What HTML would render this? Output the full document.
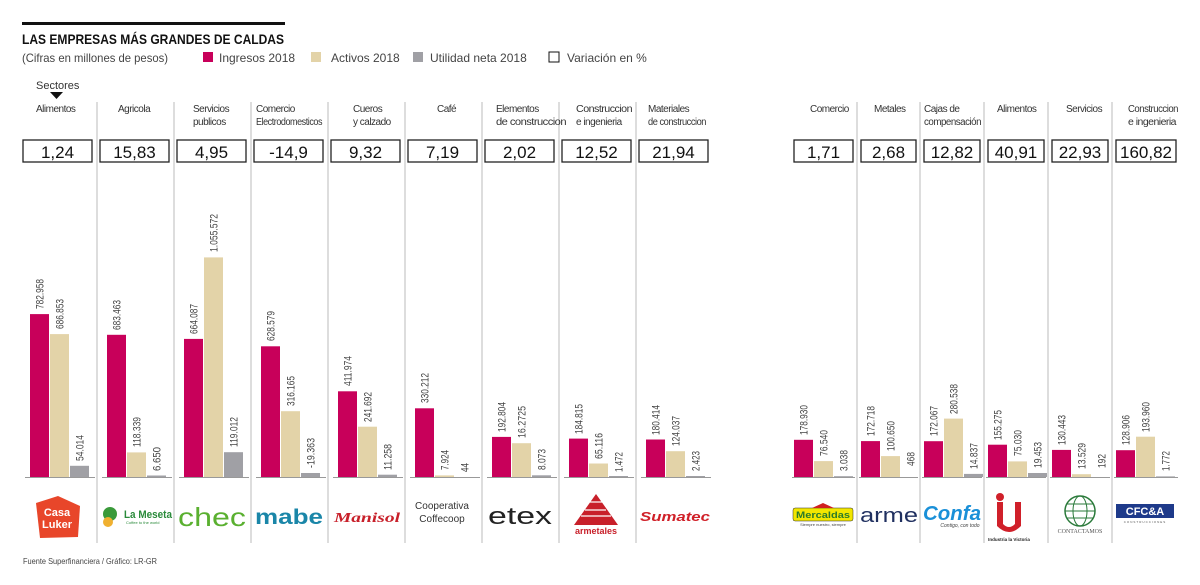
<!DOCTYPE html>
<html><head><meta charset="utf-8"><style>
body{margin:0;background:#fff}
svg{display:block;font-family:"Liberation Sans",sans-serif}
.v{font-size:11px;fill:#444}
.s{font-size:10px;fill:#333;letter-spacing:-0.5px}
.b{font-size:17px;fill:#111;text-anchor:middle}
.p{fill:#c8005a}.k{fill:#e3d3a8}.g{fill:#a0a0a5}
</style></head><body>
<svg width="1200" height="585" viewBox="0 0 1200 585">
<rect x="22" y="22" width="263" height="3" fill="#111"/>
<text x="22" y="44" font-size="14" font-weight="bold" fill="#111" textLength="262" lengthAdjust="spacingAndGlyphs">LAS EMPRESAS MÁS GRANDES DE CALDAS</text>
<text x="22" y="62" font-size="12" fill="#444" textLength="146" lengthAdjust="spacingAndGlyphs">(Cifras en millones de pesos)</text>
<rect x="203" y="52" width="10" height="10" class="p"/><text x="219" y="62" font-size="12" fill="#444">Ingresos 2018</text>
<rect x="311" y="52" width="10" height="10" class="k"/><text x="331" y="62" font-size="12" fill="#444">Activos 2018</text>
<rect x="413" y="52" width="10" height="10" class="g"/><text x="430" y="62" font-size="12" fill="#444">Utilidad neta 2018</text>
<rect x="549" y="52" width="10" height="10" fill="#fff" stroke="#111"/><text x="567" y="62" font-size="12" fill="#444">Variación en %</text>
<text x="36" y="89" font-size="11" fill="#333">Sectores</text>
<polygon points="50,92 63,92 56.5,99" fill="#111"/>

<g stroke="#bbb" stroke-width="1">
<line x1="97" y1="102" x2="97" y2="543"/><line x1="174" y1="102" x2="174" y2="543"/><line x1="251" y1="102" x2="251" y2="543"/><line x1="328" y1="102" x2="328" y2="543"/><line x1="405" y1="102" x2="405" y2="543"/><line x1="482" y1="102" x2="482" y2="543"/><line x1="559" y1="102" x2="559" y2="543"/><line x1="636" y1="102" x2="636" y2="543"/>
<line x1="857" y1="102" x2="857" y2="543"/><line x1="920" y1="102" x2="920" y2="543"/><line x1="984" y1="102" x2="984" y2="543"/><line x1="1048" y1="102" x2="1048" y2="543"/><line x1="1112" y1="102" x2="1112" y2="543"/>
</g>
<g stroke="#999" stroke-width="1">
<line x1="25" y1="477.5" x2="95" y2="477.5"/><line x1="102" y1="477.5" x2="172" y2="477.5"/><line x1="179" y1="477.5" x2="249" y2="477.5"/><line x1="256" y1="477.5" x2="326" y2="477.5"/><line x1="333" y1="477.5" x2="403" y2="477.5"/><line x1="410" y1="477.5" x2="480" y2="477.5"/><line x1="487" y1="477.5" x2="557" y2="477.5"/><line x1="564" y1="477.5" x2="634" y2="477.5"/><line x1="641" y1="477.5" x2="711" y2="477.5"/>
<line x1="792" y1="477.5" x2="855" y2="477.5"/><line x1="859" y1="477.5" x2="918" y2="477.5"/><line x1="922" y1="477.5" x2="982" y2="477.5"/><line x1="986" y1="477.5" x2="1046" y2="477.5"/><line x1="1050" y1="477.5" x2="1110" y2="477.5"/><line x1="1114" y1="477.5" x2="1178" y2="477.5"/>
</g>

<!-- sector labels -->
<g class="s">
<text x="36" y="112">Alimentos</text>
<text x="118" y="112">Agricola</text>
<text x="193" y="112">Servicios</text><text x="193" y="125">publicos</text>
<text x="256" y="112">Comercio</text><text x="256" y="125" textLength="66" lengthAdjust="spacingAndGlyphs">Electrodomesticos</text>
<text x="353" y="112">Cueros</text><text x="353" y="125">y calzado</text>
<text x="437" y="112">Café</text>
<text x="496" y="112">Elementos</text><text x="496" y="125" textLength="70" lengthAdjust="spacingAndGlyphs">de construccion</text>
<text x="576" y="112" textLength="56" lengthAdjust="spacingAndGlyphs">Construccion</text><text x="576" y="125">e ingenieria</text>
<text x="648" y="112">Materiales</text><text x="648" y="125" textLength="58" lengthAdjust="spacingAndGlyphs">de construccion</text>
<text x="810" y="112">Comercio</text>
<text x="874" y="112">Metales</text>
<text x="924" y="112">Cajas de</text><text x="924" y="125" textLength="57" lengthAdjust="spacingAndGlyphs">compensación</text>
<text x="997" y="112">Alimentos</text>
<text x="1066" y="112">Servicios</text>
<text x="1128" y="112" textLength="50" lengthAdjust="spacingAndGlyphs">Construccion</text><text x="1128" y="125" textLength="48" lengthAdjust="spacingAndGlyphs">e ingenieria</text>
</g>

<!-- variation boxes -->
<g fill="#fff" stroke="#222" stroke-width="1.3">
<rect x="23" y="140" width="69" height="22"/><rect x="100" y="140" width="69" height="22"/><rect x="177" y="140" width="69" height="22"/><rect x="254" y="140" width="69" height="22"/><rect x="331" y="140" width="69" height="22"/><rect x="408" y="140" width="69" height="22"/><rect x="485" y="140" width="69" height="22"/><rect x="562" y="140" width="69" height="22"/><rect x="639" y="140" width="69" height="22"/>
<rect x="794" y="140" width="59" height="22"/><rect x="861" y="140" width="55" height="22"/><rect x="924" y="140" width="56" height="22"/><rect x="988" y="140" width="56" height="22"/><rect x="1052" y="140" width="56" height="22"/><rect x="1116" y="140" width="60" height="22"/>
</g>
<g class="b">
<text x="57.5" y="158">1,24</text><text x="134.5" y="158">15,83</text><text x="211.5" y="158">4,95</text><text x="288.5" y="158">-14,9</text><text x="365.5" y="158">9,32</text><text x="442.5" y="158">7,19</text><text x="519.5" y="158">2,02</text><text x="596.5" y="158">12,52</text><text x="673.5" y="158">21,94</text>
<text x="823.5" y="158">1,71</text><text x="888.5" y="158">2,68</text><text x="952" y="158">12,82</text><text x="1016" y="158">40,91</text><text x="1080" y="158">22,93</text><text x="1146" y="158">160,82</text>
</g>

<!-- bars -->
<rect x="30" y="314.1" width="19" height="162.9" class="p"/><rect x="50" y="334.1" width="19" height="142.9" class="k"/><rect x="70" y="465.8" width="19" height="11.2" class="g"/>
<rect x="107" y="334.8" width="19" height="142.2" class="p"/><rect x="127" y="452.4" width="19" height="24.6" class="k"/><rect x="147" y="475.5" width="19" height="1.5" class="g"/>
<rect x="184" y="338.9" width="19" height="138.1" class="p"/><rect x="204" y="257.4" width="19" height="219.6" class="k"/><rect x="224" y="452.2" width="19" height="24.8" class="g"/>
<rect x="261" y="346.3" width="19" height="130.7" class="p"/><rect x="281" y="411.2" width="19" height="65.8" class="k"/><rect x="301" y="473" width="19" height="4" class="g"/>
<rect x="338" y="391.3" width="19" height="85.7" class="p"/><rect x="358" y="426.7" width="19" height="50.3" class="k"/><rect x="378" y="474.7" width="19" height="2.3" class="g"/>
<rect x="415" y="408.3" width="19" height="68.7" class="p"/><rect x="435" y="475.4" width="19" height="1.6" class="k"/>
<rect x="492" y="436.9" width="19" height="40.1" class="p"/><rect x="512" y="443.2" width="19" height="33.8" class="k"/><rect x="532" y="475.3" width="19" height="1.7" class="g"/>
<rect x="569" y="438.6" width="19" height="38.4" class="p"/><rect x="589" y="463.5" width="19" height="13.5" class="k"/><rect x="609" y="476" width="19" height="1" class="g"/>
<rect x="646" y="439.5" width="19" height="37.5" class="p"/><rect x="666" y="451.2" width="19" height="25.8" class="k"/><rect x="686" y="476" width="19" height="1" class="g"/>
<rect x="794" y="439.8" width="19" height="37.2" class="p"/><rect x="814" y="461.1" width="19" height="15.9" class="k"/><rect x="834" y="476.2" width="19" height="0.8" class="g"/>
<rect x="861" y="441.1" width="19" height="35.9" class="p"/><rect x="881" y="456.1" width="19" height="20.9" class="k"/>
<rect x="924" y="441.2" width="19" height="35.8" class="p"/><rect x="944" y="418.6" width="19" height="58.4" class="k"/><rect x="964" y="473.9" width="19" height="3.1" class="g"/>
<rect x="988" y="444.7" width="19" height="32.3" class="p"/><rect x="1008" y="461.4" width="19" height="15.6" class="k"/><rect x="1028" y="473" width="19" height="4" class="g"/>
<rect x="1052" y="449.9" width="19" height="27.1" class="p"/><rect x="1072" y="474.2" width="19" height="2.8" class="k"/>
<rect x="1116" y="450.2" width="19" height="26.8" class="p"/><rect x="1136" y="436.7" width="19" height="40.3" class="k"/><rect x="1156" y="476.4" width="19" height="0.6" class="g"/>

<!-- value labels -->
<g class="v">
<text transform="translate(43.5,309) rotate(-90)" textLength="30" lengthAdjust="spacingAndGlyphs">782.958</text>
<text transform="translate(63.5,329) rotate(-90)" textLength="30" lengthAdjust="spacingAndGlyphs">686.853</text>
<text transform="translate(83.5,461) rotate(-90)" textLength="26" lengthAdjust="spacingAndGlyphs">54.014</text>
<text transform="translate(120.5,330) rotate(-90)" textLength="30" lengthAdjust="spacingAndGlyphs">683.463</text>
<text transform="translate(140.5,447) rotate(-90)" textLength="30" lengthAdjust="spacingAndGlyphs">118.339</text>
<text transform="translate(160.5,471) rotate(-90)" textLength="24" lengthAdjust="spacingAndGlyphs">6.650</text>
<text transform="translate(197.5,334) rotate(-90)" textLength="30" lengthAdjust="spacingAndGlyphs">664.087</text>
<text transform="translate(217.5,252) rotate(-90)" textLength="38" lengthAdjust="spacingAndGlyphs">1.055.572</text>
<text transform="translate(237.5,447) rotate(-90)" textLength="30" lengthAdjust="spacingAndGlyphs">119.012</text>
<text transform="translate(274.5,341) rotate(-90)" textLength="30" lengthAdjust="spacingAndGlyphs">628.579</text>
<text transform="translate(294.5,406) rotate(-90)" textLength="30" lengthAdjust="spacingAndGlyphs">316.165</text>
<text transform="translate(314.5,468) rotate(-90)" textLength="30" lengthAdjust="spacingAndGlyphs">-19.363</text>
<text transform="translate(351.5,386) rotate(-90)" textLength="30" lengthAdjust="spacingAndGlyphs">411.974</text>
<text transform="translate(371.5,422) rotate(-90)" textLength="30" lengthAdjust="spacingAndGlyphs">241.692</text>
<text transform="translate(391.5,470) rotate(-90)" textLength="26" lengthAdjust="spacingAndGlyphs">11.258</text>
<text transform="translate(428.5,403) rotate(-90)" textLength="30" lengthAdjust="spacingAndGlyphs">330.212</text>
<text transform="translate(448.5,470) rotate(-90)" textLength="20" lengthAdjust="spacingAndGlyphs">7.924</text>
<text transform="translate(468.5,472) rotate(-90)" textLength="9" lengthAdjust="spacingAndGlyphs">44</text>
<text transform="translate(505.5,432) rotate(-90)" textLength="30" lengthAdjust="spacingAndGlyphs">192.804</text>
<text transform="translate(525.5,438) rotate(-90)" textLength="32" lengthAdjust="spacingAndGlyphs">16.2725</text>
<text transform="translate(545.5,470) rotate(-90)" textLength="21" lengthAdjust="spacingAndGlyphs">8.073</text>
<text transform="translate(582.5,434) rotate(-90)" textLength="30" lengthAdjust="spacingAndGlyphs">184.815</text>
<text transform="translate(602.5,459) rotate(-90)" textLength="26" lengthAdjust="spacingAndGlyphs">65.116</text>
<text transform="translate(622.5,472) rotate(-90)" textLength="20" lengthAdjust="spacingAndGlyphs">1.472</text>
<text transform="translate(659.5,435) rotate(-90)" textLength="30" lengthAdjust="spacingAndGlyphs">180.414</text>
<text transform="translate(679.5,446) rotate(-90)" textLength="30" lengthAdjust="spacingAndGlyphs">124.037</text>
<text transform="translate(699.5,471) rotate(-90)" textLength="20" lengthAdjust="spacingAndGlyphs">2.423</text>
<text transform="translate(807.5,435) rotate(-90)" textLength="30" lengthAdjust="spacingAndGlyphs">178.930</text>
<text transform="translate(827.5,456) rotate(-90)" textLength="26" lengthAdjust="spacingAndGlyphs">76.540</text>
<text transform="translate(847.5,471) rotate(-90)" textLength="21" lengthAdjust="spacingAndGlyphs">3.038</text>
<text transform="translate(874.5,436) rotate(-90)" textLength="30" lengthAdjust="spacingAndGlyphs">172.718</text>
<text transform="translate(894.5,451) rotate(-90)" textLength="30" lengthAdjust="spacingAndGlyphs">100.650</text>
<text transform="translate(914.5,466) rotate(-90)" textLength="14" lengthAdjust="spacingAndGlyphs">468</text>
<text transform="translate(937.5,436) rotate(-90)" textLength="30" lengthAdjust="spacingAndGlyphs">172.067</text>
<text transform="translate(957.5,414) rotate(-90)" textLength="30" lengthAdjust="spacingAndGlyphs">280.538</text>
<text transform="translate(977.5,469) rotate(-90)" textLength="26" lengthAdjust="spacingAndGlyphs">14.837</text>
<text transform="translate(1001.5,440) rotate(-90)" textLength="30" lengthAdjust="spacingAndGlyphs">155.275</text>
<text transform="translate(1021.5,456) rotate(-90)" textLength="26" lengthAdjust="spacingAndGlyphs">75.030</text>
<text transform="translate(1041.5,468) rotate(-90)" textLength="26" lengthAdjust="spacingAndGlyphs">19.453</text>
<text transform="translate(1065.5,445) rotate(-90)" textLength="30" lengthAdjust="spacingAndGlyphs">130.443</text>
<text transform="translate(1085.5,469) rotate(-90)" textLength="26" lengthAdjust="spacingAndGlyphs">13.529</text>
<text transform="translate(1105.5,468) rotate(-90)" textLength="14" lengthAdjust="spacingAndGlyphs">192</text>
<text transform="translate(1129.5,445) rotate(-90)" textLength="30" lengthAdjust="spacingAndGlyphs">128.906</text>
<text transform="translate(1149.5,432) rotate(-90)" textLength="30" lengthAdjust="spacingAndGlyphs">193.960</text>
<text transform="translate(1169.5,471) rotate(-90)" textLength="20" lengthAdjust="spacingAndGlyphs">1.772</text>
</g>

<!-- logos -->
<path d="M36,503 L58,496 L80,506 L78,537 L40,538 Z" fill="#e8462a"/>
<text x="57" y="516" font-size="11" font-weight="bold" fill="#fff" text-anchor="middle">Casa</text>
<text x="57" y="528" font-size="11" font-weight="bold" fill="#fff" text-anchor="middle">Luker</text>
<circle cx="110" cy="514" r="7" fill="#3a9a3a"/><circle cx="108" cy="522" r="5" fill="#f0b030"/>
<text x="124" y="518" font-size="11" font-weight="bold" fill="#2a8a3a" textLength="48" lengthAdjust="spacingAndGlyphs">La Meseta</text>
<text x="126" y="524" font-size="4" fill="#2a8a3a">Coffee to the world</text>
<text x="212" y="526" font-size="26" fill="#5ab030" text-anchor="middle" textLength="68" lengthAdjust="spacingAndGlyphs">chec</text>
<text x="289" y="524" font-size="21" font-weight="bold" fill="#1a86a8" text-anchor="middle" textLength="68" lengthAdjust="spacingAndGlyphs">mabe</text>
<text x="367" y="522" font-size="14" font-weight="bold" font-style="italic" fill="#c8202a" text-anchor="middle" font-family="Liberation Serif,serif" textLength="66" lengthAdjust="spacingAndGlyphs">Manisol</text>
<text x="442" y="509" font-size="10" fill="#333" text-anchor="middle">Cooperativa</text>
<text x="442" y="522" font-size="10" fill="#333" text-anchor="middle">Coffecoop</text>
<text x="520" y="524" font-size="24" fill="#222" text-anchor="middle" textLength="64" lengthAdjust="spacingAndGlyphs">etex</text>
<polygon points="596,494 618,525 574,525" fill="#c8202a"/>
<g stroke="#fff" stroke-width="1.2"><line x1="585" y1="510" x2="606" y2="510"/><line x1="581" y1="516" x2="611" y2="516"/><line x1="590" y1="502" x2="602" y2="502"/></g>
<text x="596" y="534" font-size="9" font-weight="bold" fill="#c8202a" text-anchor="middle">armetales</text>
<text x="675" y="521" font-size="13" font-weight="bold" font-style="italic" fill="#d02028" text-anchor="middle" textLength="70" lengthAdjust="spacingAndGlyphs">Sumatec</text>
<rect x="793" y="508" width="60" height="13" rx="2" fill="#f2e600" stroke="#2a2a2a" stroke-width="0.5"/>
<polygon points="812,508 823,503 834,508" fill="#d02020"/>
<text x="823" y="518" font-size="9" font-weight="bold" fill="#2a7a2a" text-anchor="middle" textLength="54" lengthAdjust="spacingAndGlyphs">Mercaldas</text>
<text x="823" y="526" font-size="4" fill="#444" text-anchor="middle">Siempre nuestro, siempre</text>
<text x="889" y="522" font-size="20" fill="#203060" text-anchor="middle" textLength="58" lengthAdjust="spacingAndGlyphs">arme</text>
<text x="952" y="520" font-size="20" font-weight="bold" font-style="italic" fill="#1a90d8" text-anchor="middle" textLength="58" lengthAdjust="spacingAndGlyphs">Confa</text>
<text x="960" y="527" font-size="5" font-style="italic" fill="#444" text-anchor="middle">Contigo, con todo</text>
<path d="M997,502 L1003,502 L1003,524 Q1009,530 1015,524 L1015,502 L1021,502 L1021,526 Q1009,538 997,526 Z" fill="#d0202a"/>
<circle cx="1000" cy="497" r="4" fill="#d0202a"/>
<text x="1009" y="541" font-size="4.5" font-weight="bold" fill="#222" text-anchor="middle">Industria la Victoria</text>
<circle cx="1080" cy="511" r="15" fill="none" stroke="#2a7a3a" stroke-width="1.5"/>
<ellipse cx="1080" cy="511" rx="7" ry="15" fill="none" stroke="#2a7a3a" stroke-width="1"/>
<line x1="1065" y1="511" x2="1095" y2="511" stroke="#2a7a3a"/><line x1="1067" y1="504" x2="1093" y2="504" stroke="#2a7a3a"/><line x1="1067" y1="518" x2="1093" y2="518" stroke="#2a7a3a"/>
<text x="1080" y="533" font-size="6" fill="#555" text-anchor="middle" font-family="Liberation Serif,serif">CONTACTAMOS</text>
<rect x="1116" y="504" width="58" height="14" fill="#1e3a8a"/>
<text x="1145" y="515" font-size="11" font-weight="bold" fill="#fff" text-anchor="middle">CFC&amp;A</text>
<text x="1145" y="523" font-size="3" fill="#555" text-anchor="middle" letter-spacing="1">CONSTRUCCIONES</text>

<text x="23" y="564" font-size="8.5" fill="#444" textLength="134" lengthAdjust="spacingAndGlyphs">Fuente Superfinanciera / Gráfico: LR-GR</text>
</svg>
</body></html>
